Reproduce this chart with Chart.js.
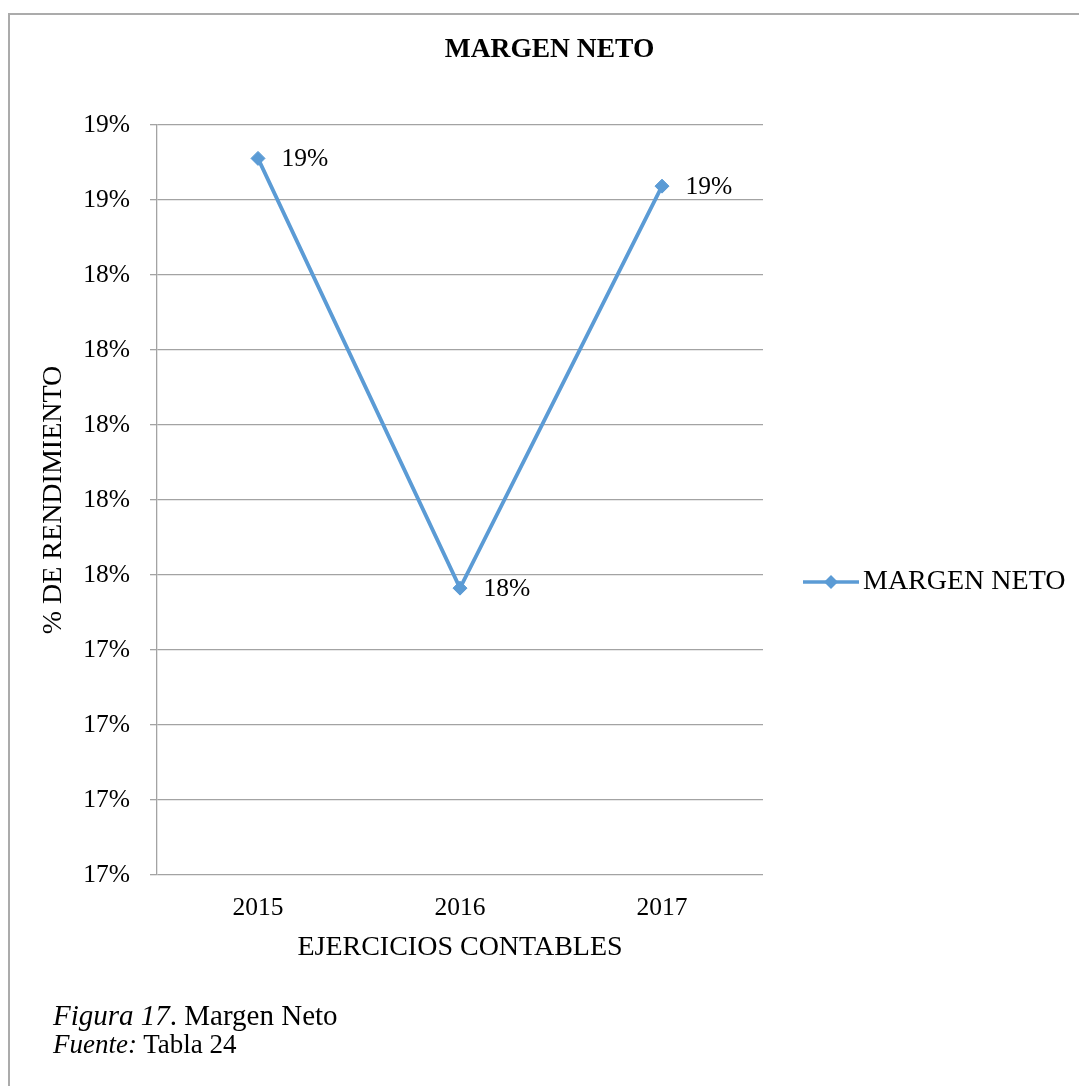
<!DOCTYPE html>
<html>
<head>
<meta charset="utf-8">
<script src="https://cdn.jsdelivr.net/npm/chart.js@4"></script>
<style>
  html, body { margin: 0; padding: 0; background: #fff; }
  #wrap { position: relative; width: 1079px; height: 1086px; overflow: hidden; }
  #frame { position: absolute; left: 8px; top: 13px; width: 1200px; height: 1200px; border-left: 2px solid #ababab; border-top: 2px solid #ababab; }
  #c { position: absolute; left: 0; top: 0; }
  .cap { position: absolute; left: 53px; font-family: "Liberation Serif", "Times New Roman", serif; color: #000; white-space: nowrap; }
  #cap1 { top: 1000.7px; font-size: 29px; line-height: 29px; }
  #cap2 { top: 1031.4px; font-size: 27px; line-height: 27px; }
</style>
</head>
<body>
<div id="wrap">
  <div id="frame"></div>
  <canvas id="c" width="1079" height="1086"></canvas>
  <div class="cap" id="cap1"><i>Figura 17</i>. Margen Neto</div>
  <div class="cap" id="cap2"><i>Fuente:</i> Tabla 24</div>
</div>
<script>
// ---- data ----
const categories = ['2015', '2016', '2017'];
const margenNeto = [0.18711, 0.17565, 0.18637];
const seriesName = 'MARGEN NETO';
const chartTitle = 'MARGEN NETO';
const xTitle = 'EJERCICIOS CONTABLES';
const yTitle = '% DE RENDIMIENTO';
const yMin = 0.168;
const yMax = 0.188;
const yStep = 0.002;

// ---- styles ----
const FONT = '"Liberation Serif", "Times New Roman", serif';
const BLUE = '#5B9BD5';
const GRID = '#a3a3a3';
const LEGEND_W = 316;
const pct = v => Math.round(v * 100) + '%';

// legend marker: line with diamond
const marker = document.createElement('canvas');
marker.width = 56; marker.height = 18;
(function () {
  const g = marker.getContext('2d');
  g.strokeStyle = BLUE; g.lineWidth = 3.5;
  g.beginPath(); g.moveTo(0, 9); g.lineTo(56, 9); g.stroke();
  g.fillStyle = BLUE;
  g.beginPath(); g.moveTo(28, 2); g.lineTo(35, 9); g.lineTo(28, 16); g.lineTo(21, 9); g.closePath(); g.fill();
})();

const fixLegendWidth = {
  id: 'fixLegendWidth',
  beforeLayout(chart) {
    const lg = chart.legend;
    if (lg && !lg.__fixed) {
      const orig = lg.fit;
      lg.fit = function () { orig.call(this); this.width = LEGEND_W; };
      lg.__fixed = true;
    }
  }
};

const pointLabels = {
  id: 'pointLabels',
  afterDatasetsDraw(chart) {
    const ctx = chart.ctx;
    const meta = chart.getDatasetMeta(0);
    const data = chart.data.datasets[0].data;
    ctx.save();
    ctx.font = '25.5px ' + FONT;
    ctx.fillStyle = '#000';
    ctx.textAlign = 'left';
    ctx.textBaseline = 'middle';
    meta.data.forEach((el, i) => {
      ctx.fillText(pct(data[i]), el.x + 23.5, el.y + 1);
    });
    ctx.restore();
  }
};

Chart.defaults.color = '#000';
Chart.defaults.font.family = FONT;

new Chart(document.getElementById('c'), {
  type: 'line',
  data: {
    labels: categories,
    datasets: [{
      label: seriesName,
      data: margenNeto,
      borderColor: BLUE,
      backgroundColor: BLUE,
      borderWidth: 3.8,
      tension: 0,
      pointStyle: 'rectRot',
      pointRadius: 7,
      pointHoverRadius: 7,
      pointBorderWidth: 1,
      pointBackgroundColor: BLUE,
      pointBorderColor: BLUE,
      fill: false
    }]
  },
  options: {
    responsive: false,
    animation: false,
    devicePixelRatio: 1,
    layout: { padding: { left: 20, right: 0, top: 0, bottom: 0 } },
    plugins: {
      tooltip: { enabled: false },
      title: {
        display: true,
        text: chartTitle,
        color: '#000',
        font: { family: FONT, size: 27.5, weight: 'bold', lineHeight: 1.2 },
        padding: { top: 33.5, bottom: 58.5 }
      },
      legend: {
        display: true,
        position: 'right',
        align: 'center',
        title: { display: true, text: '', padding: { top: 63.6, bottom: 0 } },
        labels: {
          usePointStyle: true,
          pointStyle: marker,
          pointStyleWidth: 36,
          padding: 50,
          color: '#000',
          font: { family: FONT, size: 28 }
        }
      }
    },
    scales: {
      x: {
        type: 'category',
        offset: true,
        grid: { display: false, drawTicks: false },
        border: { display: false },
        ticks: { padding: 18, color: '#000', font: { family: FONT, size: 25.5, lineHeight: 1.2 } },
        title: {
          display: true, text: xTitle, color: '#000',
          font: { family: FONT, size: 28, lineHeight: 1.2 },
          padding: { top: 0, bottom: 121.7 }
        },
        afterFit(scale) { scale.height = 211; }
      },
      y: {
        min: yMin,
        max: yMax,
        grid: { color: GRID, lineWidth: 1.3, drawTicks: true, tickLength: 7, tickColor: GRID },
        border: { display: true, color: GRID, width: 1.3 },
        ticks: {
          stepSize: yStep,
          padding: 20,
          color: '#000',
          font: { family: FONT, size: 25.5, lineHeight: 1.2 },
          callback: v => pct(v),
          autoSkip: false
        },
        title: {
          display: true, text: yTitle, color: '#000',
          font: { family: FONT, size: 28, lineHeight: 1.2 },
          padding: { top: 16.7, bottom: 0 }
        },
        afterFit(scale) { scale.width = 137; }
      }
    }
  },
  plugins: [fixLegendWidth, pointLabels]
});
</script>
</body>
</html>
